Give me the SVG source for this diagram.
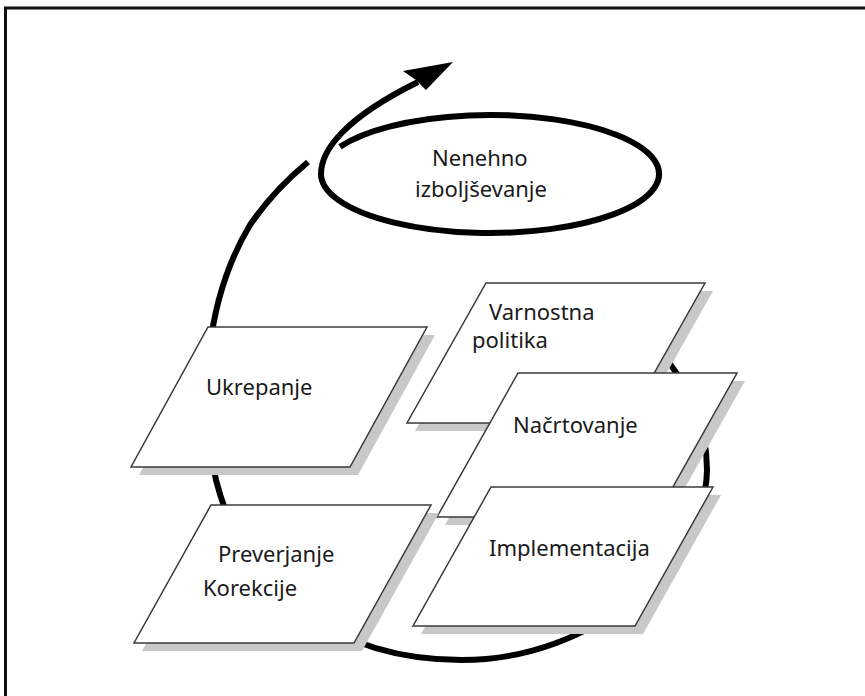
<svg xmlns="http://www.w3.org/2000/svg" width="865" height="696" viewBox="0 0 865 696">
<style>
.frame{stroke:#111;stroke-width:3;fill:none}
.loop{fill:none;stroke:#000;stroke-width:6}
.shadow{fill:#c8c8c8;stroke:none}
.box{fill:#fff;stroke:#3a3a3a;stroke-width:1.5}
.lbl{font-family:"Noto Sans","Open Sans",sans-serif;font-size:22px;fill:#1a1a1a}
</style>
<rect width="865" height="696" fill="#fff"/>
<path class="frame" d="M5.5 696 V8 H865"/>
<g id="connectors">
<path class="loop" d="M655 345 C690 385 707 425 707 470 C706 560 595 660 462 660 C340 660 245 595 216 480 C198 400 205 300 250 225 Q274 190 308 162"/>
<path class="loop" d="M321 174 C321 150 345 118 418 82"/>
<polygon points="453,62 403,71 416,80 426,90" fill="#000"/>
</g>
<g id="node-nenehno">
<path class="loop" d="M340 146.8 A169 59 0 1 1 321 174"/>
<text class="lbl" x="432" y="166">Nenehno</text>
<text class="lbl" x="415" y="197">izboljševanje</text>
</g>
<g id="node-ukrepanje">
<polygon class="shadow" points="216,335 435,335 358,475 139,475"/>
<polygon class="box" points="208,327 427,327 350,467 131,467"/>
<text class="lbl" x="206" y="395">Ukrepanje</text>
</g>
<g id="node-varnostna">
<polygon class="shadow" points="494,291 713,291 634,431 415,431"/>
<polygon class="box" points="486,283 705,283 626,423 407,423"/>
<text class="lbl" x="489" y="320">Varnostna</text>
<text class="lbl" x="472" y="348">politika</text>
</g>
<g id="node-nacrtovanje">
<polygon class="shadow" points="526,381 745,381 664,525 445,525"/>
<polygon class="box" points="518,373 737,373 656,517 437,517"/>
<text class="lbl" x="513" y="433">Načrtovanje</text>
</g>
<g id="node-implementacija">
<polygon class="shadow" points="499,495 721,495 643,634 421,634"/>
<polygon class="box" points="491,487 713,487 635,626 413,626"/>
<text class="lbl" x="489" y="556">Implementacija</text>
</g>
<g id="node-preverjanje">
<polygon class="shadow" points="219,513 439,513 362,651 142,651"/>
<polygon class="box" points="211,505 431,505 354,643 134,643"/>
<text class="lbl" x="218" y="562">Preverjanje</text>
<text class="lbl" x="203" y="596">Korekcije</text>
</g>
</svg>
